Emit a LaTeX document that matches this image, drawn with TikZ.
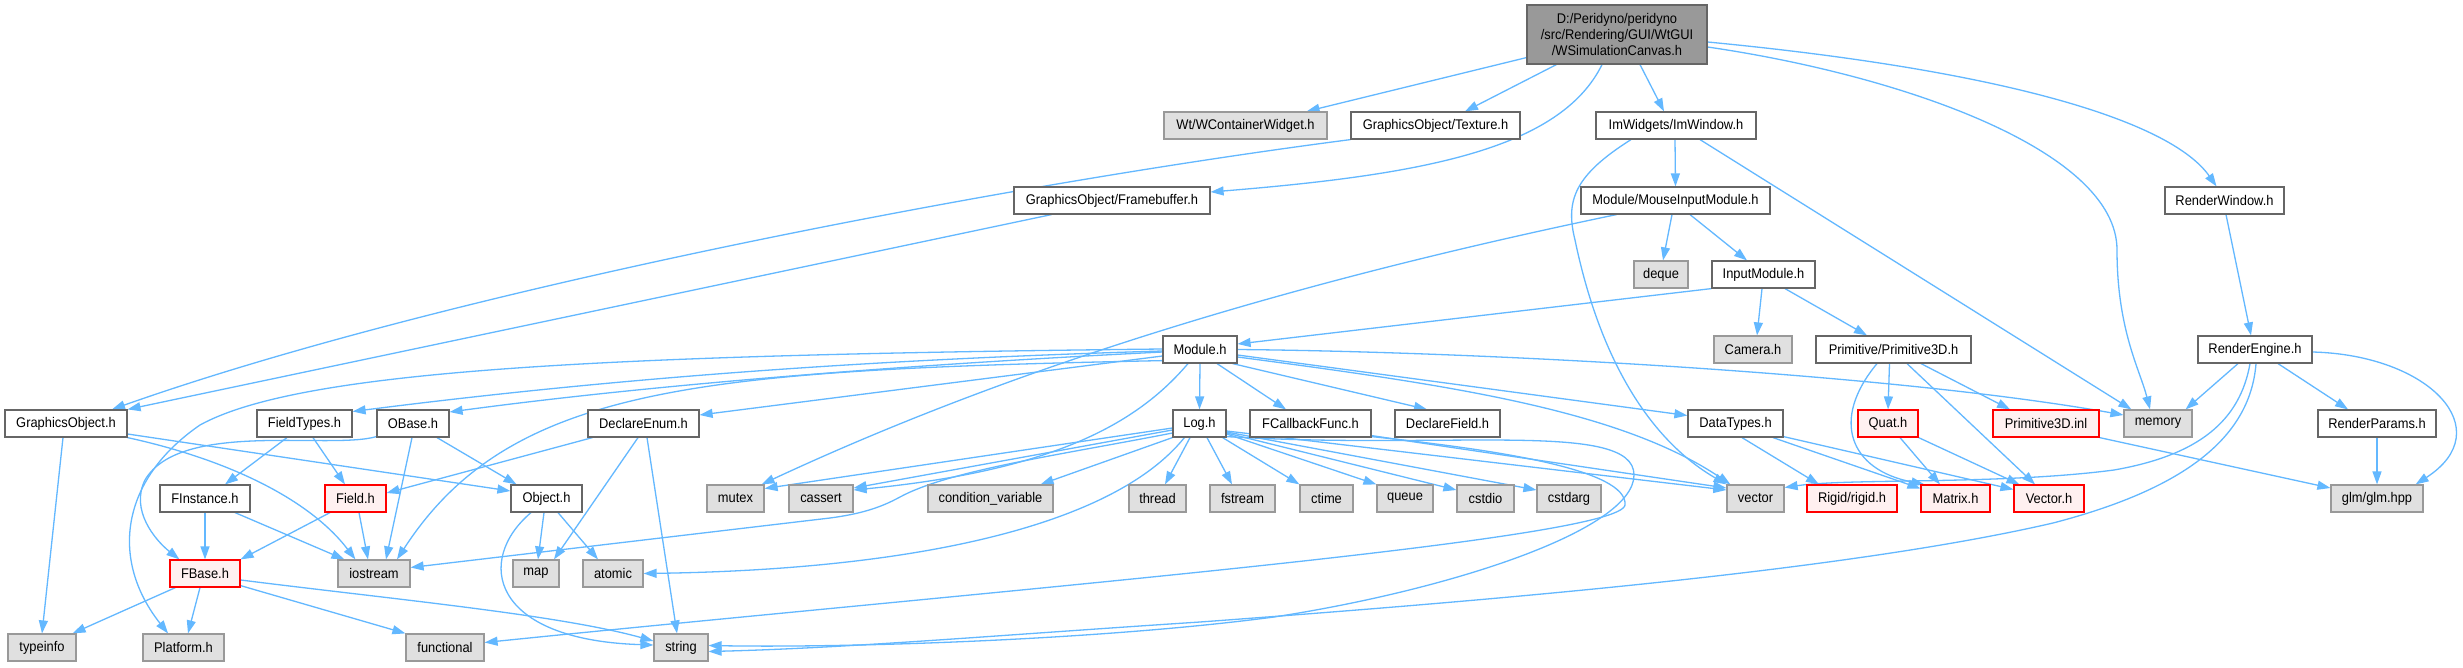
\documentclass[tikz,border=0pt]{standalone}
\usepackage{fontspec}
\setmainfont{Liberation Sans}[FakeStretch=0.92]
\usetikzlibrary{arrows.meta,calc}
\definecolor{edgec}{HTML}{63B8FF}
\definecolor{nborder}{HTML}{666666}
\definecolor{sborder}{HTML}{999999}
\definecolor{sfill}{HTML}{E0E0E0}
\definecolor{rfill}{HTML}{FFF0F0}
\definecolor{rootfill}{HTML}{999999}
\pgfdeclarelayer{background}
\pgfsetlayers{background,main}
\begin{document}
\begin{tikzpicture}[x=1pt,y=-1pt,
  nbox/.style={draw=nborder, fill=white, line width=1.2pt, minimum height=27pt, inner sep=0pt, font=\fontsize{14}{16}\selectfont},
  sbox/.style={nbox, draw=sborder, fill=sfill},
  rbox/.style={nbox, draw=red, fill=rfill},
  topbox/.style={nbox, fill=rootfill, minimum height=59pt, align=center},
  edge/.style={draw=edgec, line width=1.3pt, -{Triangle[length=13pt,width=9pt]}}]
\useasboundingbox (0,0) rectangle (2463,667);
% row 1
\node[topbox, minimum width=180pt] (root) at (1617,34.5) {D:/Peridyno/peridyno\\/src/Rendering/GUI/WtGUI\\/WSimulationCanvas.h};
% row 2
\node[sbox, minimum width=163pt] (wcw) at (1245.5,125.5) {Wt/WContainerWidget.h};
\node[nbox, minimum width=169pt] (tex) at (1435.5,125.5) {GraphicsObject/Texture.h};
\node[nbox, minimum width=160pt] (imw) at (1676,125.5) {ImWidgets/ImWindow.h};
% row 3
\node[nbox, minimum width=196pt] (fb) at (1112,200.5) {GraphicsObject/Framebuffer.h};
\node[nbox, minimum width=189pt] (mim) at (1675.5,200.5) {Module/MouseInputModule.h};
\node[nbox, minimum width=119pt] (rw) at (2224.5,200.5) {RenderWindow.h};
% row 4
\node[sbox, minimum width=54pt] (deque) at (1661,274.5) {deque};
\node[nbox, minimum width=103pt] (inm) at (1763.5,274.5) {InputModule.h};
% row 5
\node[nbox, minimum width=74pt] (mod) at (1200,349.5) {Module.h};
\node[sbox, minimum width=78pt] (cam) at (1753,349.5) {Camera.h};
\node[nbox, minimum width=155pt] (p3d) at (1893.5,349.5) {Primitive/Primitive3D.h};
\node[nbox, minimum width=114pt] (re) at (2255,349.5) {RenderEngine.h};
% row 6
\node[nbox, minimum width=122pt] (go) at (66,423.5) {GraphicsObject.h};
\node[nbox, minimum width=95pt] (ft) at (304.5,423.5) {FieldTypes.h};
\node[nbox, minimum width=72pt] (ob) at (413,423.5) {OBase.h};
\node[nbox, minimum width=111pt] (de) at (643.5,423.5) {DeclareEnum.h};
\node[nbox, minimum width=53pt] (log) at (1199.5,423.5) {Log.h};
\node[nbox, minimum width=121pt] (fcb) at (1310.5,423.5) {FCallbackFunc.h};
\node[nbox, minimum width=105pt] (df) at (1447.5,423.5) {DeclareField.h};
\node[nbox, minimum width=95pt] (dt) at (1735.5,423.5) {DataTypes.h};
\node[rbox, minimum width=60pt] (quat) at (1888,423.5) {Quat.h};
\node[rbox, minimum width=106pt] (p3i) at (2046,423.5) {Primitive3D.inl};
\node[sbox, minimum width=68pt] (mem) at (2158,423.5) {memory};
\node[nbox, minimum width=118pt] (rp) at (2377,423.5) {RenderParams.h};
% row 7
\node[nbox, minimum width=90pt] (fi) at (205,498.5) {FInstance.h};
\node[rbox, minimum width=61pt] (field) at (355.5,498.5) {Field.h};
\node[nbox, minimum width=71pt] (obj) at (546.5,498.5) {Object.h};
\node[sbox, minimum width=57pt] (mutex) at (735.5,498.5) {mutex};
\node[sbox, minimum width=64pt] (cassert) at (821,498.5) {cassert};
\node[sbox, minimum width=125pt] (cv) at (990.5,498.5) {condition\_variable};
\node[sbox, minimum width=57pt] (thread) at (1157.5,498.5) {thread};
\node[sbox, minimum width=65pt] (fstream) at (1242.5,498.5) {fstream};
\node[sbox, minimum width=53pt] (ctime) at (1326.5,498.5) {ctime};
\node[sbox, minimum width=56pt] (queue) at (1405,498.5) {queue};
\node[sbox, minimum width=57pt] (cstdio) at (1485.5,498.5) {cstdio};
\node[sbox, minimum width=64pt] (cstdarg) at (1569,498.5) {cstdarg};
\node[sbox, minimum width=57pt] (vector) at (1755.5,498.5) {vector};
\node[rbox, minimum width=90pt] (rigid) at (1852,498.5) {Rigid/rigid.h};
\node[rbox, minimum width=69pt] (matrix) at (1955.5,498.5) {Matrix.h};
\node[rbox, minimum width=70pt] (vec) at (2049,498.5) {Vector.h};
\node[sbox, minimum width=92pt] (glm) at (2377,498.5) {glm/glm.hpp};
% row 8
\node[rbox, minimum width=70pt] (fbase) at (205,573.5) {FBase.h};
\node[sbox, minimum width=72pt] (ios) at (374,573.5) {iostream};
\node[sbox, minimum width=46pt] (map) at (536,573.5) {map};
\node[sbox, minimum width=60pt] (atomic) at (613,573.5) {atomic};
% row 9
\node[sbox, minimum width=68pt] (typeinfo) at (42,647.5) {typeinfo};
\node[sbox, minimum width=81pt] (platform) at (183.5,647.5) {Platform.h};
\node[sbox, minimum width=78pt] (functional) at (445,647.5) {functional};
\node[sbox, minimum width=54pt] (string) at (681,647.5) {string};

\begin{pgfonlayer}{background}
\fill[white] (0,0) rectangle (2463,667);
% root
\draw[edge] ($(root.south west)+(0,-7)$) -- ($(wcw.north east)+(-21,0)$);
\draw[edge] ($(root.south west)+(30,0)$) -- ($(tex.north)+(29.5,0)$);
\draw[edge] ($(root.south)+(-15,0)$) .. controls (1560,150) and (1420,175) .. ($(fb.east)+(0,-8.5)$);
\draw[edge] ($(root.south)+(23,0)$) -- ($(imw.north)+(-12,0)$);
\draw[edge] ($(root.east)+(0,12.5)$) .. controls (1900,75) and (2117,150) .. (2117,250) .. controls (2117,330) and (2140,370) .. ($(mem.north)+(-8,0)$);
\draw[edge] ($(root.east)+(0,7.5)$) .. controls (2000,70) and (2170,120) .. ($(rw.north)+(-8,0)$);
% texture / framebuffer
\draw[edge] (tex.south west) .. controls (1000,185) and (450,290) .. ($(go.north)+(46,0)$);
\draw[edge] ($(fb.south west)+(38,0)$) -- (go.north east);
% imwindow
\draw[edge] ($(imw.south)+(-1,0)$) -- (mim.north);
\draw[edge] ($(imw.south)+(24,0)$) -- ($(mem.north west)+(8,0)$);
\draw[edge] ($(imw.south)+(-45,0)$) .. controls (1575,175) and (1565,200) .. (1575,240) .. controls (1600,360) and (1650,440) .. (vector.north west);
% mouse input
\draw[edge] ($(mim.south)+(-3.5,0)$) -- ($(deque.north)+(2,0)$);
\draw[edge] ($(mim.south)+(14.5,0)$) -- ($(inm.north)+(-16.5,0)$);
\draw[edge] ($(mim.south west)+(36,0)$) .. controls (1350,270) and (1050,350) .. ($(mutex.north east)+(-3,0)$);
% input module
\draw[edge] (inm.south west) -- ($(mod.east)+(0,-5.5)$);
\draw[edge] ($(inm.south)+(-1.5,0)$) -- ($(cam.north)+(4,0)$);
\draw[edge] ($(inm.south)+(21.5,0)$) -- ($(p3d.north)+(-26.5,0)$);
\draw[edge] ($(rw.south)+(1.5,0)$) -- ($(re.north)+(-4,0)$);
% module
\draw[edge] (mod.south) -- (log.north);
\draw[edge] ($(mod.south)+(17,0)$) -- ($(fcb.north)+(-24.5,0)$);
\draw[edge] ($(mod.south east)+(-5,0)$) -- ($(df.north)+(-20.5,0)$);
\draw[edge] ($(mod.east)+(0,5.5)$) -- ($(dt.west)+(0,-8)$);
\draw[edge] (mod.east) .. controls (1500,352) and (1900,375) .. ($(mem.west)+(0,-8.5)$);
\draw[edge] ($(mod.east)+(0,7.5)$) .. controls (1450,385) and (1620,410) .. ($(vector.north west)+(4,0)$);
\draw[edge] ($(mod.west)+(0,6.5)$) -- ($(de.east)+(0,-8.5)$);
\draw[edge] ($(mod.west)+(0,2.5)$) .. controls (900,365) and (650,385) .. ($(ob.east)+(0,-11.5)$);
\draw[edge] ($(mod.west)+(0,1.5)$) .. controls (850,360) and (600,380) .. ($(ft.east)+(0,-12)$);
\draw[edge] ($(mod.west)+(0,-0.5)$) .. controls (600,355) and (300,370) .. (200,425) .. controls (120,480) and (110,560) .. ($(platform.north)+(-15.5,0)$);
\draw[edge] ($(mod.south west)+(0,-3)$) .. controls (700,370) and (510,385) .. ($(ios.north)+(23,0)$);
\draw[edge] ($(mod.south)+(-12,0)$) .. controls (1140,420) and (1060,470) .. ($(cassert.east)+(0,-8.5)$);
% log
\draw[edge] ($(log.west)+(0,6.5)$) -- ($(cassert.east)+(0,-10.5)$);
\draw[edge] ($(log.west)+(0,4.5)$) -- ($(mutex.east)+(0,-10)$);
\draw[edge] (log.south west) -- ($(cv.north east)+(-13,0)$);
\draw[edge] ($(log.south)+(-9.5,0)$) -- ($(thread.north)+(7.5,0)$);
\draw[edge] ($(log.south)+(7.5,0)$) -- ($(fstream.north)+(-10.5,0)$);
\draw[edge] ($(log.south east)+(-4,0)$) -- (ctime.north west);
\draw[edge] ($(log.east)+(0,10.5)$) -- (queue.north west);
\draw[edge] ($(log.east)+(0,9.5)$) -- ($(cstdio.west)+(0,-8.5)$);
\draw[edge] ($(log.east)+(0,8.5)$) -- ($(cstdarg.west)+(0,-8.5)$);
\draw[edge] ($(log.east)+(0,7.5)$) -- ($(vector.west)+(0,-8.5)$);
\draw[edge] ($(log.west)+(0,9.5)$) .. controls (1060,455) and (950,470) .. (900,497) .. controls (880,508) and (860,514) .. (830,518) -- ($(ios.east)+(0,-6)$);
\draw[edge] ($(log.south west)+(12,0)$) .. controls (1110,530) and (900,570) .. (atomic.east);
\draw[edge] ($(log.south east)+(0,-1)$) .. controls (1450,450) and (1634,420) .. (1634,475) .. controls (1634,530) and (1450,590) .. (1274,617) .. controls (1100,640) and (850,648) .. ($(string.east)+(0,-2)$);
% fcallback
\draw[edge] ($(fcb.south east)+(0,-2)$) -- ($(vector.west)+(0,-10.5)$);
\draw[edge] ($(fcb.south east)+(0,-1)$) .. controls (1500,450) and (1628,470) .. (1625,505) .. controls (1620,540) and (1000,590) .. ($(functional.east)+(0,-5)$);
% datatypes, primitive
\draw[edge] ($(dt.south)+(6.5,0)$) -- ($(rigid.north)+(-33,0)$);
\draw[edge] ($(dt.south)+(37.5,0)$) -- ($(matrix.west)+(0,-10)$);
\draw[edge] ($(dt.south east)+(0,-1)$) -- ($(vec.west)+(0,-9)$);
\draw[edge] ($(p3d.south)+(-4,0)$) -- (quat.north);
\draw[edge] ($(p3d.south)+(27.5,0)$) -- ($(p3i.north)+(-36,0)$);
\draw[edge] ($(p3d.south)+(13.5,0)$) -- ($(vec.north)+(-14,0)$);
\draw[edge] ($(p3d.south)+(-16.5,0)$) .. controls (1830,420) and (1850,470) .. ($(matrix.north west)+(4,0)$);
\draw[edge] ($(quat.south)+(12,0)$) -- ($(matrix.north)+(-15.5,0)$);
\draw[edge] (quat.south east) -- ($(vec.north west)+(6,0)$);
\draw[edge] (p3i.south east) -- ($(glm.west)+(0,-10.5)$);
% render engine
\draw[edge] ($(re.south)+(-17,0)$) -- ($(mem.north east)+(-7,0)$);
\draw[edge] ($(re.south)+(23,0)$) -- ($(rp.north)+(-29,0)$);
\draw[edge] ($(re.east)+(0,2.5)$) .. controls (2430,355) and (2500,430) .. ($(glm.north east)+(-8,0)$);
\draw[edge] ($(re.south)+(-5,0)$) .. controls (2240,420) and (2200,455) .. (2114,470) .. controls (2000,485) and (1850,478) .. ($(vector.east)+(0,-11)$);
\draw[edge] ($(re.south)+(1,0)$) .. controls (2250,440) and (2180,490) .. (2053,523) .. controls (1850,570) and (1500,600) .. (1200,622) .. controls (1000,635) and (850,648) .. ($(string.east)+(0,4)$);
\draw[edge] (rp.south) -- (glm.north);
% left part
\draw[edge] ($(go.south)+(-3,0)$) -- (typeinfo.north);
\draw[edge] (go.south east) .. controls (230,460) and (310,500) .. ($(ios.north west)+(18,0)$);
\draw[edge] ($(go.east)+(0,10.5)$) -- ($(obj.west)+(0,-7.5)$);
\draw[edge] ($(ft.south)+(-17.5,0)$) -- ($(fi.north)+(20,0)$);
\draw[edge] ($(ft.south)+(8.5,0)$) -- ($(field.north)+(-10.5,0)$);
\draw[edge] ($(ob.south)+(-1,0)$) -- ($(ios.north)+(12,0)$);
\draw[edge] ($(ob.south)+(24,0)$) -- ($(obj.north)+(-30,0)$);
\draw[edge] ($(ob.south west)+(0,-1)$) .. controls (330,450) and (180,420) .. (145,480) .. controls (130,510) and (155,540) .. ($(fbase.north west)+(10,0)$);
\draw[edge] ($(de.south west)+(5,0)$) -- ($(field.east)+(0,-5.5)$);
\draw[edge] ($(de.south)+(-5.5,0)$) -- ($(map.north)+(18,0)$);
\draw[edge] ($(de.south)+(3.5,0)$) -- ($(string.north)+(-4,0)$);
\draw[edge] (fi.south) -- (fbase.north);
\draw[edge] ($(fi.south)+(30,0)$) -- ($(ios.north west)+(7,0)$);
\draw[edge] ($(field.south)+(-25.5,0)$) -- (fbase.north east);
\draw[edge] ($(field.south)+(3.5,0)$) -- ($(ios.north)+(-6,0)$);
\draw[edge] ($(obj.south)+(-2.5,0)$) -- ($(map.north)+(2,0)$);
\draw[edge] ($(obj.south)+(11.5,0)$) -- ($(atomic.north)+(-15,0)$);
\draw[edge] ($(obj.south)+(-15.5,0)$) .. controls (475,560) and (490,640) .. ($(string.west)+(0,-2.5)$);
\draw[edge] ($(fbase.south west)+(6,0)$) -- ($(typeinfo.north east)+(-4,0)$);
\draw[edge] ($(fbase.south)+(-5,0)$) -- ($(platform.north)+(4.5,0)$);
\draw[edge] ($(fbase.south east)+(0,-2)$) -- (functional.north west);
\draw[edge] ($(fbase.east)+(0,6.5)$) .. controls (400,600) and (560,615) .. ($(string.west)+(0,-6.5)$);
\end{pgfonlayer}
\end{tikzpicture}
\end{document}
